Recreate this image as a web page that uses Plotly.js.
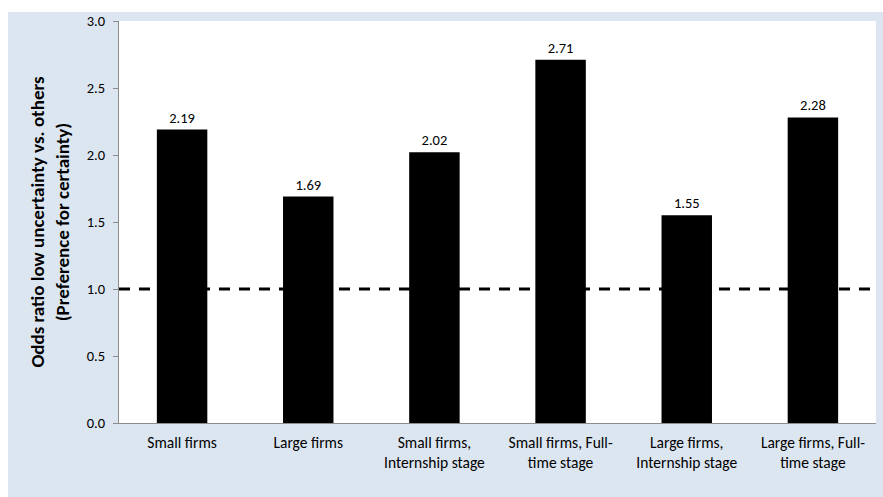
<!DOCTYPE html>
<html>
<head>
<meta charset="utf-8">
<script src="https://cdn.plot.ly/plotly-3.0.1.min.js"></script>
<style>
  html, body { margin: 0; padding: 0; background: #ffffff; }
  #chart { width: 883px; height: 497px; }
</style>
</head>
<body>
<div id="chart"></div>
<script>
// Odds ratios of preferring low uncertainty, by firm size and hiring stage
const categories = [
  "Small firms",
  "Large firms",
  "Small firms,<br>Internship stage",
  "Small firms, Full-<br>time stage",
  "Large firms,<br>Internship stage",
  "Large firms, Full-<br>time stage"
];
const oddsRatios = [2.19, 1.69, 2.02, 2.71, 1.55, 2.28];
const referenceLevel = 1.0;
const yTickValues = [0, 0.5, 1.0, 1.5, 2.0, 2.5, 3.0];

const FONT = "Calibri, Carlito, Lato, 'Open Sans', sans-serif";

const trace = {
  type: "bar",
  x: categories,
  y: oddsRatios,
  marker: { color: "#000000", line: { width: 0 } },
  text: oddsRatios.map(v => v.toFixed(2)),
  texttemplate: "%{text}",
  textposition: "outside",
  textfont: { family: FONT, size: 14.5, color: "#000000" },
  cliponaxis: false,
  hoverinfo: "x+y"
};

const layout = {
  width: 883,
  height: 497,
  margin: { l: 119, r: 7, t: 21, b: 74 },
  paper_bgcolor: "#ffffff",
  plot_bgcolor: "#ffffff",
  showlegend: false,
  bargap: 0.6,
  font: { family: FONT, size: 14, color: "#000000" },
  xaxis: {
    type: "category",
    showline: true,
    linecolor: "#8c8c8c",
    linewidth: 1,
    ticks: "",
    showgrid: false,
    zeroline: false,
    ticklabelstandoff: 5,
    tickfont: { family: FONT, size: 15.5, color: "#000000" },
    fixedrange: true
  },
  yaxis: {
    range: [0, 3.0],
    tickvals: yTickValues,
    tickformat: ".1f",
    showline: true,
    linecolor: "#8c8c8c",
    linewidth: 1,
    ticks: "outside",
    ticklen: 5,
    tickcolor: "#8c8c8c",
    showgrid: false,
    zeroline: false,
    ticklabelstandoff: 5,
    tickfont: { family: FONT, size: 14.5, color: "#000000" },
    title: {
      text: "<b>Odds ratio low uncertainty vs. others<br>(Preference for certainty)</b>",
      font: { family: FONT, size: 19, color: "#000000" },
      standoff: 12
    },
    fixedrange: true
  },
  shapes: [
    // light blue chart-area panel
    {
      type: "rect", xref: "paper", yref: "paper",
      x0: -0.1466, x1: 1.02, y0: -0.2, y1: 1.0224,
      fillcolor: "#dce6f1", line: { width: 0 }, layer: "below"
    },
    // white plotting area
    {
      type: "rect", xref: "paper", yref: "paper",
      x0: 0, x1: 1, y0: 0, y1: 1,
      fillcolor: "#ffffff", line: { width: 0 }, layer: "below"
    },
    // reference line at odds ratio = 1
    {
      type: "line", xref: "paper", yref: "y",
      x0: 0, x1: 1, y0: referenceLevel, y1: referenceLevel,
      line: { color: "#000000", width: 3, dash: "11px,9px" }
    }
  ]
};

Plotly.newPlot("chart", [trace], layout, { displayModeBar: false, staticPlot: true });
</script>
</body>
</html>
